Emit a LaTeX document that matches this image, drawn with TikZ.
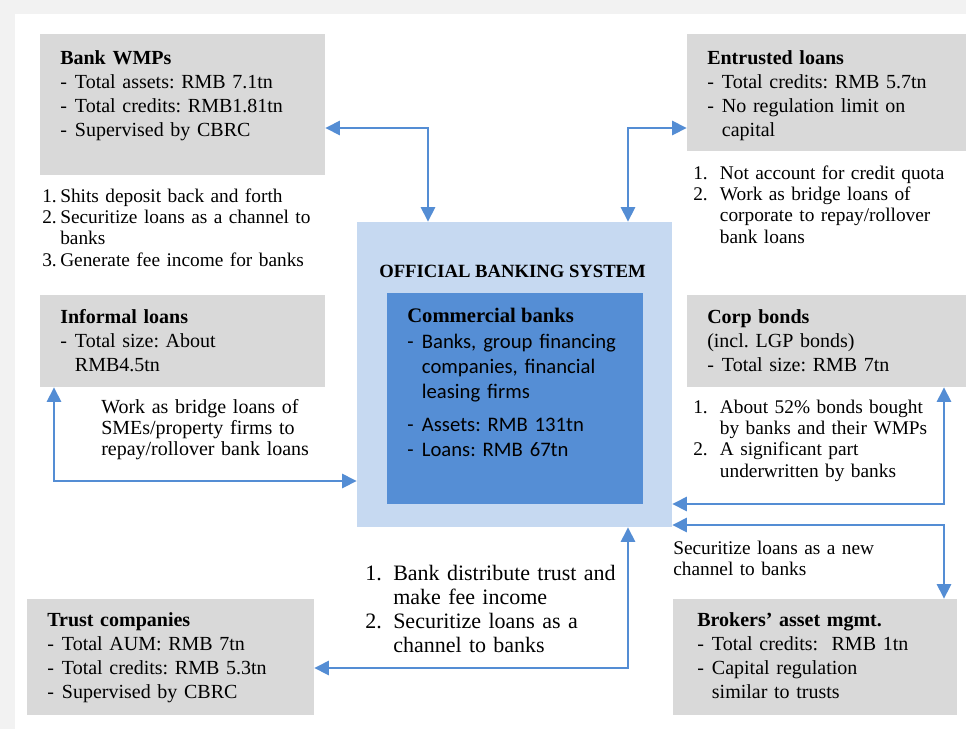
\documentclass[tikz,border=0pt]{standalone}
\usepackage{fontspec}
\setmainfont{Liberation Serif}
\newfontfamily\calfont{Carlito}
\usepackage{tikz}
\usetikzlibrary{arrows.meta}
\usetikzlibrary{fit}
\frenchspacing
\definecolor{bggrey}{HTML}{F2F2F2}
\definecolor{boxgrey}{HTML}{D9D9D9}
\definecolor{sysblue}{HTML}{C6D9F1}
\definecolor{bankblue}{HTML}{558ED5}
\definecolor{linkblue}{HTML}{548DD4}
\newcommand{\itm}{\makebox[11pt][l]{-}}
\newcommand{\ind}{\hspace*{11pt}}
\newcommand{\numl}[2]{\makebox[#1][l]{#2.}}
\tikzset{
  boxg/.style={fill=boxgrey, inner sep=0pt},
  txt/.style={anchor=base west, inner sep=0pt, align=left, text width=#1},
  txt/.default=230pt,
  big/.style={font=\fontsize{15}{18.2}\selectfont},
  small/.style={font=\fontsize{14.5}{16.1}\selectfont},
  link/.style={draw=linkblue, line width=2.2pt, {Triangle[length=11pt,width=10.5pt]}-{Triangle[length=11pt,width=10.5pt]}}
}

\begin{document}
\begin{tikzpicture}[x=0.75pt, y=-0.75pt]
        \useasboundingbox (0,0) rectangle (966,729);
        \fill[bggrey] (0,0) rectangle (966,729);
        \fill[white] (15,14) rectangle (966,729);
        % boxes
        \node[boxg, fit={(40,34) (325,175)}] (wmp) {};
        \node[boxg, fit={(687,34) (966,151)}] (entr) {};
        \node[boxg, fit={(40,295) (325,387)}] (infl) {};
        \node[boxg, fit={(687,295) (966,387)}] (corp) {};
        \node[boxg, fit={(27,599) (314,715)}] (trust) {};
        \node[boxg, fit={(673,599) (957,715)}] (brok) {};
        \node[fill=sysblue, inner sep=0pt, fit={(357,222) (672,527)}] (obs) {};
        \node[fill=bankblue, inner sep=0pt, fit={(387,293) (643,504)}] (cbank) {};
        % official system
        \node[anchor=base west, inner sep=0pt, font=\bfseries\fontsize{14}{16}\selectfont] (obstitle) at (379,277) {OFFICIAL BANKING SYSTEM};
        \node[anchor=base west, inner sep=0pt, font=\bfseries\fontsize{15.5}{18}\selectfont] (cbtitle) at (407,322) {Commercial banks};
        \node[txt, font=\calfont\fontsize{15.5}{18.75}\selectfont] (cbtxt) at (407,348) {\itm Banks, group financing\\ \ind companies, financial\\ \ind leasing firms\\[6pt] \itm Assets: RMB 131tn\\ \itm Loans: RMB 67tn};
        % top left
        \node[txt, big] (wmptxt) at (60,64) {\textbf{Bank WMPs}\\ \itm Total assets: RMB 7.1tn\\ \itm Total credits: RMB1.81tn\\ \itm Supervised by CBRC};
        \node[txt, small] (wmpnote) at (42,202) {\numl{13.5pt}{1}Shits deposit back and forth\\ \numl{13.5pt}{2}Securitize loans as a channel to\\ \hspace*{13.5pt}banks\\ \numl{13.5pt}{3}Generate fee income for banks};
        % top right
        \node[txt, big] (entrtxt) at (707,64) {\textbf{Entrusted loans}\\ \itm Total credits: RMB 5.7tn\\ \itm No regulation limit on\\ \ind capital};
        \node[txt, small] (entrnote) at (693,179) {\numl{20pt}{1}Not account for credit quota\\ \numl{20pt}{2}Work as bridge loans of\\ \hspace*{20pt}corporate to repay/rollover\\ \hspace*{20pt}bank loans};
        % middle left
        \node[txt, big] (infltxt) at (60,323) {\textbf{Informal loans}\\ \itm Total size: About\\ \ind RMB4.5tn};
        \node[txt, font=\fontsize{15}{16.1}\selectfont] (inflnote) at (101,413) {Work as bridge loans of\\ SMEs/property firms to\\ repay/rollover bank loans};
        % middle right
        \node[txt, big] (corptxt) at (707,323) {\textbf{Corp bonds}\\ (incl. LGP bonds)\\ \itm Total size: RMB 7tn};
        \node[txt, small] (corpnote) at (693,413) {\numl{20pt}{1}About 52\% bonds bought\\ \hspace*{20pt}by banks and their WMPs\\ \numl{20pt}{2}A significant part\\ \hspace*{20pt}underwritten by banks};
        \node[txt, small] (secnote) at (673,554) {Securitize loans as a new\\ channel to banks};
        % bottom
        \node[txt, big] (trusttxt) at (47,626) {\textbf{Trust companies}\\ \itm Total AUM: RMB 7tn\\ \itm Total credits: RMB 5.3tn\\ \itm Supervised by CBRC};
        \node[txt, font=\fontsize{16.5}{18}\selectfont] (trustnote) at (365,580) {\numl{21pt}{1}Bank distribute trust and\\ \hspace*{21pt}make fee income\\ \numl{21pt}{2}Securitize loans as a\\ \hspace*{21pt}channel to banks};
        \node[txt, big] (broktxt) at (697,626) {\textbf{Brokers’ asset mgmt.}\\ \itm Total credits:\ \ RMB 1tn\\ \itm Capital regulation\\ \ind similar to trusts};
        % links
        \draw[link] (wmp.east |- 0,128) -| (obs.north -| 428,0);
        \draw[link] (obs.north -| 628,0) |- (entr.west |- 0,128);
        \draw[link] (infl.south -| 54,0) |- (obs.west |- 0,481);
        \draw[link] (corp.south -| 944,0) |- (obs.east |- 0,504);
        \draw[link] (obs.east |- 0,525) -| (brok.north -| 944,0);
        \draw[link] (obs.south -| 628,0) |- (trust.east |- 0,668);
\end{tikzpicture}
\end{document}
